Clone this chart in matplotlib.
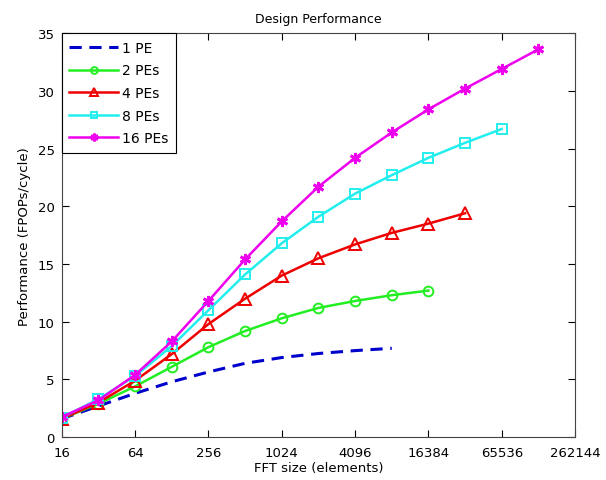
import numpy as np
import matplotlib.pyplot as plt

plt.rcParams['font.family'] = ['DejaVu Sans']

fft_size = [16, 32, 64, 128, 256, 512, 1024, 2048, 4096, 8192, 16384, 32768, 65536, 131072]
xticks = [16, 64, 256, 1024, 4096, 16384, 65536, 262144]

pe1 = [1.6, 2.7, 3.8, 4.8, 5.65, 6.4, 6.9, 7.25, 7.5, 7.7]
pe2 = [1.6, 2.9, 4.4, 6.1, 7.8, 9.2, 10.3, 11.2, 11.8, 12.3, 12.7]
pe4 = [1.6, 3.0, 4.9, 7.2, 9.8, 12.0, 14.0, 15.5, 16.7, 17.7, 18.5, 19.4]
pe8 = [1.7, 3.3, 5.3, 7.9, 11.0, 14.1, 16.8, 19.1, 21.1, 22.7, 24.2, 25.5, 26.7]
pe16 = [1.75, 3.2, 5.4, 8.3, 11.8, 15.4, 18.7, 21.7, 24.2, 26.4, 28.4, 30.2, 31.9, 33.6]

fig = plt.figure(figsize=(6.06, 4.81), dpi=100)
ax = fig.add_axes([0.102, 0.089, 0.847, 0.840])

ax.plot(fft_size[:len(pe1)], pe1, '--', color='#0000cc', lw=2.2, dashes=(4, 2.5), label='1 PE')
ax.plot(fft_size[:len(pe2)], pe2, '-o', color='#22ee22', lw=1.8, ms=7, mfc='none', mew=1.4, label='2 PEs')
ax.plot(fft_size[:len(pe4)], pe4, '-^', color='#ee0000', lw=1.8, ms=8, mfc='none', mew=1.4, label='4 PEs')
ax.plot(fft_size[:len(pe8)], pe8, '-s', color='#22eeee', lw=1.8, ms=7, mfc='none', mew=1.4, label='8 PEs')
ax.plot(fft_size[:len(pe16)], pe16, '-', marker=(6, 2, 0), color='#ee00ee', lw=1.8, ms=8, mew=2, label='16 PEs')

ax.set_xscale('log', base=2)
ax.set_xlim(16, 262144)
ax.set_ylim(0, 35)
ax.set_xticks(xticks)
ax.set_xticklabels([str(v) for v in xticks])
ax.minorticks_off()
ax.set_yticks(range(0, 36, 5))
ax.tick_params(direction='in', top=True, right=True, labelsize=9.5, length=5, width=0.8)
ax.tick_params(axis='x', pad=6)
ax.tick_params(axis='y', pad=5)
for s in ax.spines.values():
    s.set_color('#444444')

ax.set_title('Design Performance', fontsize=9, pad=8)
ax.set_xlabel('FFT size (elements)', fontsize=9.5, labelpad=2)
ax.set_ylabel('Performance (FPOPs/cycle)', fontsize=9.5, labelpad=5)

leg = ax.legend(loc='upper left', fontsize=10, fancybox=False, framealpha=1,
                edgecolor='black', borderaxespad=0, handlelength=3.5, labelspacing=0.62,
                handletextpad=0.3, borderpad=0.55, markerscale=0.7)
leg.get_frame().set_linewidth(0.8)

fig.savefig('out.png', dpi=100)
